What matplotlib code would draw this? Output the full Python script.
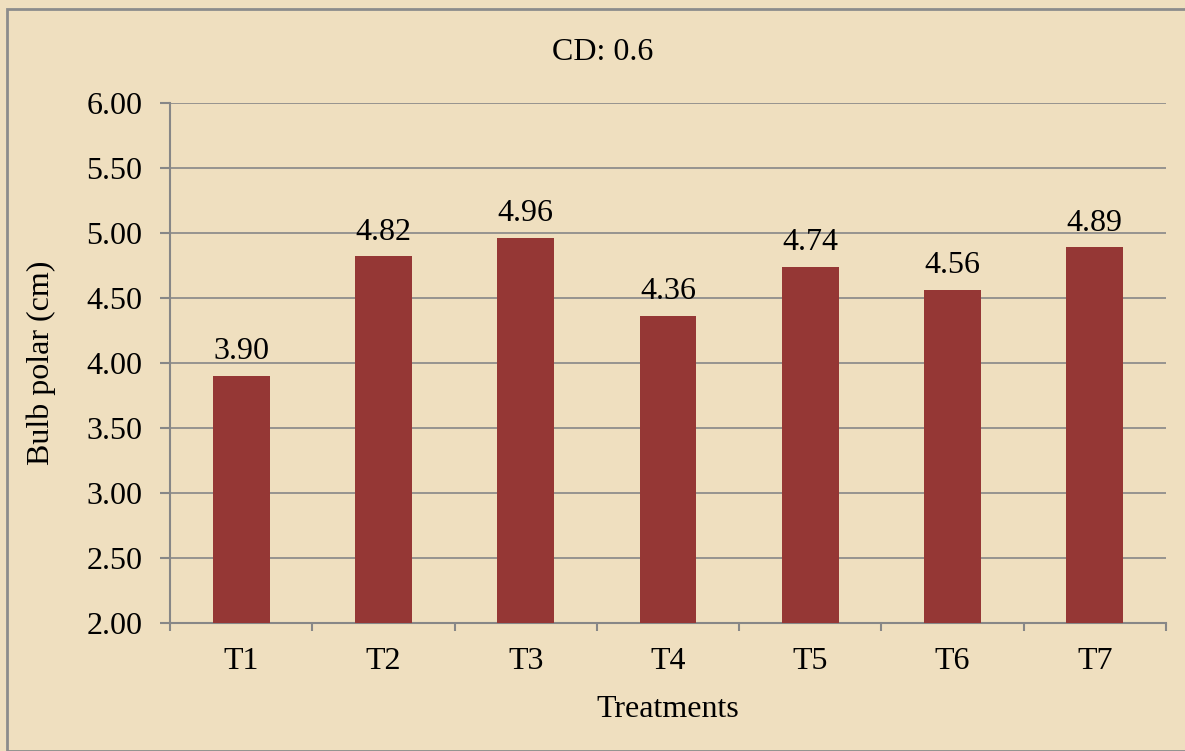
import matplotlib
matplotlib.use("Agg")
import matplotlib.pyplot as plt
from matplotlib.patches import Rectangle

# Data
treatments = ["T1", "T2", "T3", "T4", "T5", "T6", "T7"]
bulb_polar = [3.90, 4.82, 4.96, 4.36, 4.74, 4.56, 4.89]
y_ticks = [2.00, 2.50, 3.00, 3.50, 4.00, 4.50, 5.00, 5.50, 6.00]

bg = "#EFDFBF"
bar_color = "#953735"
grid_color = "#878787"
fs = 23

plt.rcParams["font.family"] = ["Liberation Serif", "DejaVu Serif"]

fig = plt.figure(figsize=(11.85, 7.51), dpi=100)
fig.patch.set_facecolor(bg)
# outer chart border
fig.add_artist(Rectangle((7 / 1185, 0), 1.0, 1 - 9 / 751, transform=fig.transFigure,
                         fill=False, edgecolor="#8C8C8C", linewidth=2))

ax = fig.add_axes([170 / 1185, 1 - 623 / 751, 996 / 1185, 520 / 751])
ax.set_facecolor("none")

x = list(range(len(treatments)))
ax.bar(x, bulb_polar, width=0.4, color=bar_color, zorder=3)
for xi, v in zip(x, bulb_polar):
    ax.annotate(f"{v:.2f}", (xi, v), xytext=(0, 7), textcoords="offset points",
                ha="center", va="bottom", fontsize=fs, zorder=4)

ax.set_xlim(-0.5, len(treatments) - 0.5)
ax.set_ylim(2, 6)
ax.set_yticks(y_ticks)
ax.set_yticklabels([f"{t:.2f}" for t in y_ticks], fontsize=fs)
ax.yaxis.grid(True, color=grid_color, linewidth=1.2, zorder=1)

ax.set_xticks(x)
ax.set_xticklabels(treatments, fontsize=fs)
ax.tick_params(axis="x", length=0, pad=17)
ax.set_xticks([i - 0.5 for i in range(len(treatments) + 1)], minor=True)
ax.tick_params(axis="x", which="minor", length=6, width=1.5, color=grid_color, direction="out")
ax.tick_params(axis="y", length=7, width=1.5, color=grid_color, pad=13)

for side in ["top", "right"]:
    ax.spines[side].set_visible(False)
for side in ["left", "bottom"]:
    ax.spines[side].set_color(grid_color)
    ax.spines[side].set_linewidth(1.5)

ax.set_xlabel("Treatments", fontsize=fs, labelpad=14)
ax.set_ylabel("Bulb polar (cm)", fontsize=fs, labelpad=22)
fig.text(603 / 1185, 1 - 52 / 751, "CD: 0.6", ha="center", va="center", fontsize=fs)

fig.savefig("out.png", dpi=100, facecolor=bg)
